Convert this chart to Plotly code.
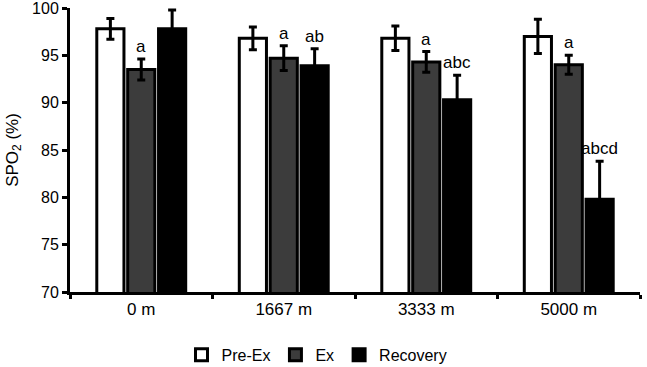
import plotly.graph_objects as go

categories = ["0 m", "1667 m", "3333 m", "5000 m"]
series_names = ["Pre-Ex", "Ex", "Recovery"]
pre_ex = [97.8, 96.8, 96.8, 97.0]
pre_ex_err = [1.1, 1.2, 1.3, 1.8]
ex = [93.5, 94.7, 94.3, 94.0]
ex_err = [1.1, 1.3, 1.1, 1.0]
recovery = [97.8, 93.9, 90.3, 79.8]
recovery_err = [2.0, 1.8, 2.6, 4.0]
ex_labels = ["a", "a", "a", "a"]
rec_labels = ["", "ab", "abc", "abcd"]

colors = ["#ffffff", "#3c3c3c", "#000000"]
values = [pre_ex, ex, recovery]
errs = [pre_ex_err, ex_err, recovery_err]

fig = go.Figure()
for name, v, e, c in zip(series_names, values, errs, colors):
    fig.add_trace(go.Bar(
        x=categories, y=v, name=name,
        marker=dict(color=c, line=dict(color="black", width=3)),
        error_y=dict(type="data", array=e, visible=True, color="black",
                     thickness=3, width=4),
    ))

font = "Liberation Sans, Arial, sans-serif"
annotations = []
for cat, v, e, lab in zip(categories, ex, ex_err, ex_labels):
    if lab:
        annotations.append(dict(x=cat, y=v + e, text=lab, xref="x", yref="y",
                                xshift=0, yshift=1, yanchor="bottom",
                                showarrow=False, font=dict(size=17, color="black", family=font)))
for cat, v, e, lab in zip(categories, recovery, recovery_err, rec_labels):
    if lab:
        annotations.append(dict(x=cat, y=v + e, text=lab, xref="x", yref="y",
                                xshift=31, yshift=1, yanchor="bottom",
                                showarrow=False, font=dict(size=17, color="black", family=font)))

fig.update_layout(
    width=647, height=367,
    margin=dict(l=70, r=7, t=8, b=75, autoexpand=False),
    paper_bgcolor="white", plot_bgcolor="white",
    barmode="group", bargap=0.35, bargroupgap=0.12,
    font=dict(family=font, size=15, color="black"),
    showlegend=True,
    legend=dict(orientation="h", xref="container", yref="container",
                x=0.49, y=0.033, xanchor="center", yanchor="middle",
                font=dict(size=16), itemwidth=30, tracegroupgap=0),
    annotations=annotations,
    yaxis=dict(range=[70, 100], dtick=5, showgrid=False, zeroline=False,
               showline=True, linecolor="black", linewidth=3,
               ticks="outside", ticklen=5, tickwidth=3, tickcolor="black",
               tickfont=dict(size=16), ticklabeloverflow="allow", automargin=False,
               title=dict(text="SPO<sub>2</sub> (%)", font=dict(size=17), standoff=10)),
    xaxis=dict(showgrid=False, showline=True, linecolor="black", linewidth=3,
               ticks="outside", tickson="boundaries", ticklen=4, tickwidth=3,
               tickcolor="black", tickfont=dict(size=17), automargin=False),
)

fig.write_html("out.html")
